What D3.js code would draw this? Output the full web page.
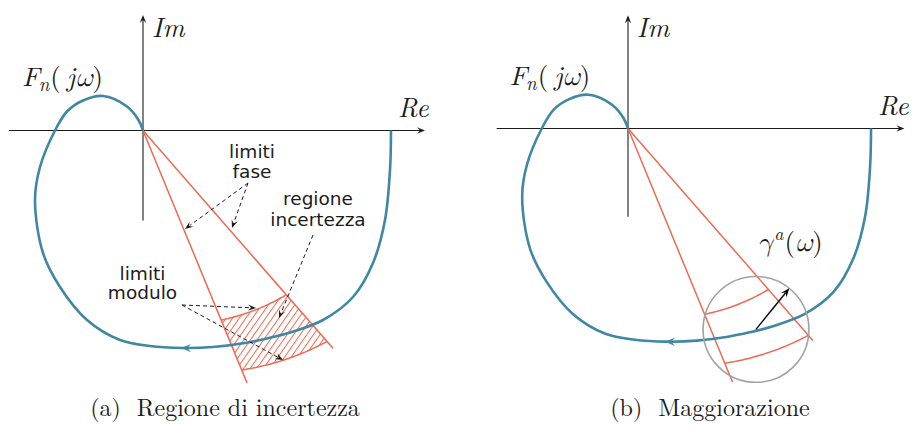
<!DOCTYPE html>
<html><head><meta charset="utf-8">
<script src="https://cdn.jsdelivr.net/npm/d3@7"></script>
<style>body{margin:0;background:#fff}svg{display:block}</style>
</head><body>
<script>
// Nominal Nyquist locus F_n(jω) as (Re, Im) pairs, ordered by increasing ω
const nyqRe = [2.48, 2.47, 2.42, 2.30, 2.10, 1.80, 1.47, 1.24, 1.02, 0.70, 0.39, 0.07, -0.23, -0.56, -0.83, -1.00, -1.08, -1.03, -0.88, -0.76, -0.60, -0.40, -0.16, -0.045, 0];
const nyqIm = [0, -0.395, -0.895, -1.325, -1.665, -1.895, -2.02, -2.08, -2.125, -2.165, -2.175, -2.155, -2.095, -1.895, -1.565, -1.225, -0.695, -0.365, 0, 0.19, 0.30, 0.345, 0.24, 0.105, 0];
// point where the direction arrow sits on the locus
const flowArrowAt = [0.38, -2.17];

// uncertainty region at one frequency: phase limits (deg) and modulus limits at each phase limit
const phaseLimits = [-67.6, -48.9];
const modInner = [2.05, 2.18];
const modOuter = [2.59, 2.80];
const phaseRayLenA = [2.73, 2.89];
const phaseRayLenB = [2.80, 2.87];

// bounding disc γ^a(ω) centred on F_n(jω)
const discCenter = [1.306, -2.05];
const discRadius = 0.54;
const radiusArrowDeg = 51;

// axis extents
const reAxis = [-1.34, 2.82];
const imAxis = [-0.90, 1.155];

// annotation leaders: [from, to] in (Re, Im)
const leadersFase = [[[1.05, -0.525], [0.42, -0.985]], [[1.05, -0.525], [0.89, -0.975]]];
const leadersRegione = [[[1.70, -1.045], [1.36, -1.875]]];
const leadersModulo = [[[0.39, -1.745], [1.13, -1.775]], [[0.39, -1.745], [1.40, -2.295]]];

const captions = ["(a)  Regione di incertezza", "(b)  Maggiorazione"];

const BLUE = "#3f87a3", RED = "#ec6a52", INK = "#1c1c1c";
const SERIF = '"Latin Modern Roman", "Liberation Serif", serif';
const GREEK = '"Latin Modern Math", "Latin Modern Roman", "DejaVu Serif", serif';
const SANS = '"DejaVu Sans", sans-serif';

const W = 912, H = 425;
const svg = d3.select("body").append("svg").attr("width", W).attr("height", H);

const defs = svg.append("defs");
const pat = defs.append("pattern").attr("id", "hatch")
  .attr("patternUnits", "userSpaceOnUse").attr("width", 5.4).attr("height", 5.4)
  .attr("patternTransform", "rotate(35)");
pat.append("line").attr("x1", 0.5).attr("y1", 0).attr("x2", 0.5).attr("y2", 5.4)
  .attr("stroke", RED).attr("stroke-width", 1);

const rad = d => d * Math.PI / 180;
const polar = (r, deg) => [r * Math.cos(rad(deg)), r * Math.sin(rad(deg))];

function arrowHead(g, tip, ang, L, Wd, color) {
  const dx = Math.cos(ang), dy = Math.sin(ang), px = -dy, py = dx;
  const p = [
    [tip[0], tip[1]],
    [tip[0] - L * dx + Wd * px, tip[1] - L * dy + Wd * py],
    [tip[0] - 0.62 * L * dx, tip[1] - 0.62 * L * dy],
    [tip[0] - L * dx - Wd * px, tip[1] - L * dy - Wd * py]
  ];
  g.append("path").attr("d", "M" + p.map(q => q.join(",")).join("L") + "Z")
    .attr("fill", color).attr("stroke", "none");
}

function regionPts(n) {
  const inner = [], outer = [];
  for (let i = 0; i <= n; i++) {
    const t = i / n;
    const ph = phaseLimits[0] + t * (phaseLimits[1] - phaseLimits[0]);
    inner.push(polar(modInner[0] + t * (modInner[1] - modInner[0]), ph));
    outer.push(polar(modOuter[0] + t * (modOuter[1] - modOuter[0]), ph));
  }
  return {inner, outer};
}

function panel(cfg) {
  const x = d3.scaleLinear().domain([0, 1]).range([cfg.ox, cfg.ox + cfg.k]);
  const y = d3.scaleLinear().domain([0, 1]).range([cfg.oy, cfg.oy - cfg.k]);
  const g = svg.append("g");
  const line = d3.line().x(d => x(d[0])).y(d => y(d[1]));

  // axes
  g.append("line").attr("x1", x(reAxis[0])).attr("x2", x(reAxis[1]) - 4)
    .attr("y1", y(0)).attr("y2", y(0)).attr("stroke", INK).attr("stroke-width", 1.1);
  arrowHead(g, [x(reAxis[1]), y(0)], 0, 8, 3.2, INK);
  g.append("line").attr("x1", x(0)).attr("x2", x(0))
    .attr("y1", y(imAxis[0])).attr("y2", y(imAxis[1]) + 4).attr("stroke", INK).attr("stroke-width", 1.1);
  arrowHead(g, [x(0), y(imAxis[1])], -Math.PI / 2, 8, 3.2, INK);

  // uncertainty region
  const {inner, outer} = regionPts(48);
  if (cfg.hatch) {
    const poly = inner.concat(outer.slice().reverse());
    g.append("path").attr("d", line(poly) + "Z").attr("fill", "url(#hatch)").attr("stroke", "none");
  }
  phaseLimits.forEach((ph, i) => {
    g.append("path").attr("d", line([[0, 0], polar(cfg.rayLen[i], ph)]))
      .attr("stroke", RED).attr("stroke-width", 1.5).attr("fill", "none");
  });
  [inner, outer].forEach(a => g.append("path").attr("d", line(a))
    .attr("stroke", RED).attr("stroke-width", 1.5).attr("fill", "none"));

  // nominal locus
  const pts = nyqRe.map((r, i) => [r, nyqIm[i]]);
  const curve = g.append("path")
    .attr("d", d3.line().x(d => x(d[0])).y(d => y(d[1])).curve(d3.curveCatmullRom.alpha(0.5))(pts))
    .attr("fill", "none").attr("stroke", BLUE).attr("stroke-width", 2.6);
  const node = curve.node(), tot = node.getTotalLength();
  const tx = x(flowArrowAt[0]), ty = y(flowArrowAt[1]);
  let best = 0, bd = 1e9;
  for (let s = 0; s <= tot; s += 0.5) {
    const p = node.getPointAtLength(s), d = (p.x - tx) ** 2 + (p.y - ty) ** 2;
    if (d < bd) { bd = d; best = s; }
  }
  const p0 = node.getPointAtLength(best - 2), p1 = node.getPointAtLength(best + 2);
  const pm = node.getPointAtLength(best);
  arrowHead(g, [pm.x, pm.y], Math.atan2(p1.y - p0.y, p1.x - p0.x), 10, 4.2, BLUE);

  // labels
  const math = g.append("g").style("font-family", SERIF).attr("fill", INK);
  math.append("text").attr("x", x(0.09)).attr("y", y(0.935)).attr("font-size", 27)
    .attr("font-style", "italic").text("Im");
  math.append("text").attr("x", x(2.55)).attr("y", y(0.135)).attr("font-size", 27)
    .attr("font-style", "italic").text("Re");
  const fn = math.append("text").attr("x", x(-1.21)).attr("y", y(0.445)).attr("font-size", 27);
  fn.append("tspan").attr("font-style", "italic").text("F");
  fn.append("tspan").attr("font-style", "italic").attr("font-size", 19).attr("dy", 5).attr("dx", -1).text("n");
  fn.append("tspan").attr("dy", -5).attr("dx", 1).text("(");
  fn.append("tspan").attr("font-style", "italic").attr("dx", 6).text("j");
  fn.append("tspan").attr("font-style", "italic").style("font-family", GREEK).text("ω");
  fn.append("tspan").text(")");

  return {g, x, y};
}

// (a) uncertainty region
const A = panel({ox: 143, oy: 130.5, k: 100, hatch: true, rayLen: phaseRayLenA});
{
  const {g, x, y} = A;
  const lead = g.append("g");
  [...leadersFase, ...leadersRegione, ...leadersModulo].forEach(([s, e]) => {
    const sx = x(s[0]), sy = y(s[1]), ex = x(e[0]), ey = y(e[1]);
    const ang = Math.atan2(ey - sy, ex - sx);
    lead.append("line").attr("x1", sx).attr("y1", sy)
      .attr("x2", ex - 6 * Math.cos(ang)).attr("y2", ey - 6 * Math.sin(ang))
      .attr("stroke", INK).attr("stroke-width", 1).attr("stroke-dasharray", "4,3");
    arrowHead(lead, [ex, ey], ang, 8, 3.2, INK);
  });
  const sans = g.append("g").style("font-family", SANS)
    .attr("font-size", 18.5).attr("fill", INK).attr("text-anchor", "middle");
  const lbl = (t, ux, uy) => sans.append("text").attr("x", x(ux)).attr("y", y(uy)).text(t);
  lbl("limiti", 1.09, -0.275);
  lbl("fase", 1.09, -0.475);
  lbl("regione", 1.75, -0.74);
  lbl("incertezza", 1.75, -0.955);
  lbl("limiti", -0.005, -1.495);
  lbl("modulo", -0.005, -1.685);
}

// (b) bounding disc
const B = panel({ox: 628, oy: 128.5, k: 98, hatch: false, rayLen: phaseRayLenB});
{
  const {g, x, y} = B;
  const cx = x(discCenter[0]), cy = y(discCenter[1]);
  const rpx = x(discRadius) - x(0);
  g.append("circle").attr("cx", cx).attr("cy", cy).attr("r", rpx)
    .attr("fill", "none").attr("stroke", "#a3a3a3").attr("stroke-width", 1.6);
  const tip = [x(discCenter[0] + discRadius * Math.cos(rad(radiusArrowDeg))),
               y(discCenter[1] + discRadius * Math.sin(rad(radiusArrowDeg)))];
  const ang = Math.atan2(tip[1] - cy, tip[0] - cx);
  g.append("line").attr("x1", cx).attr("y1", cy)
    .attr("x2", tip[0] - 6 * Math.cos(ang)).attr("y2", tip[1] - 6 * Math.sin(ang))
    .attr("stroke", "#000").attr("stroke-width", 1.4);
  arrowHead(g, tip, ang, 9, 3.6, "#000");
  const gm = g.append("text").attr("x", x(1.32)).attr("y", y(-1.25))
    .style("font-family", SERIF).attr("font-size", 27).attr("fill", INK);
  gm.append("tspan").attr("font-style", "italic").style("font-family", GREEK).text("γ");
  gm.append("tspan").attr("font-style", "italic").attr("font-size", 18).attr("dy", -11).attr("dx", 1).text("a");
  gm.append("tspan").attr("dy", 11).attr("dx", 1).text("(");
  gm.append("tspan").attr("font-style", "italic").style("font-family", GREEK).text("ω");
  gm.append("tspan").text(")");
}

// sub-figure captions
svg.append("g").style("font-family", SERIF).attr("font-size", 24)
  .attr("fill", INK).attr("text-anchor", "middle")
  .selectAll("text").data(captions).join("text")
  .attr("x", (d, i) => [225, 710][i]).attr("y", 416)
  .style("white-space", "pre").text(d => d);
</script>
</body></html>
